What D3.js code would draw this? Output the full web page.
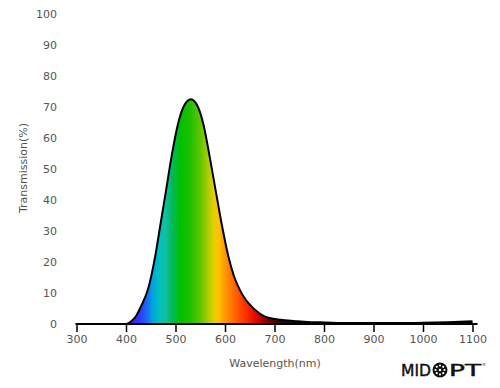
<!DOCTYPE html>
<html><head><meta charset="utf-8">
<script src="https://cdn.jsdelivr.net/npm/d3@7"></script>
<style>body{margin:0;background:#fff}svg{display:block}</style>
</head><body>
<svg id="c" width="500" height="388"></svg>
<script>
const wavelengths = [300,350,400,410,420,430,445,458,470,481,492,505,516,531,544,556,569,581,593,607,618,630,642,654,668,681,700,720,746,775,800,850,900,950,1000,1050,1100];
const transmission = [0,0,0,0.8,2.5,5.6,11.5,21,32.5,43.2,54,64.5,70,72.5,70.5,64.7,54,43.2,32.5,21.7,15.5,11,7.8,5.6,3.6,2.4,1.6,1.2,0.9,0.6,0.5,0.3,0.3,0.3,0.4,0.6,0.9];
const xTicks = [300,400,500,600,700,800,900,1000,1100];
const yTicks = [0,10,20,30,40,50,60,70,80,90,100];
const spectrumNm = [400,412,428,442,455,467,480,495,510,530,550,565,578,588,600,620,645,668,690,715,760];
const spectrumColors = ["#6010ff","#4a1aff","#2a3cff","#1a6af0","#00a8dc","#00c0c0","#10c0a0","#00b850","#00c000","#20c000","#60c400","#a8cc00","#e8d000","#ffc000","#ff9800","#ff6400","#ff2800","#d00000","#700000","#181010","#000000"];

const svg = d3.select("#c");
const x = d3.scaleLinear().domain([300,1100]).range([76.5,472.5]);
const y = d3.scaleLinear().domain([0,100]).range([324,14]);
const font = "'DejaVu Sans', Verdana, sans-serif";
const data = wavelengths.map((w,i)=>({w, t: transmission[i]}));

const grad = svg.append("defs").append("linearGradient")
  .attr("id","spec").attr("gradientUnits","userSpaceOnUse")
  .attr("x1", x(400)).attr("x2", x(760)).attr("y1",0).attr("y2",0);
spectrumNm.forEach((n,i)=>{
  grad.append("stop").attr("offset", (n-400)/(760-400)).attr("stop-color", spectrumColors[i]);
});

const area = d3.area().x(d=>x(d.w)).y0(y(0)).y1(d=>y(d.t)).curve(d3.curveMonotoneX);
const line = d3.line().x(d=>x(d.w)).y(d=>y(d.t)).curve(d3.curveMonotoneX);

svg.append("path").datum(data).attr("d", area).attr("fill","url(#spec)");

// x axis
const xa = svg.append("g").attr("transform",`translate(0,${y(0)})`)
  .call(d3.axisBottom(x).tickValues(xTicks).tickFormat(d3.format("d")).tickSize(8).tickSizeOuter(0).tickPadding(3));
xa.select(".domain").remove();
xa.append("line").attr("x1", x(300)-1).attr("x2", x(1100)+5).attr("stroke","#000").attr("stroke-width",2);
xa.selectAll(".tick line").attr("stroke","#000").attr("stroke-width",1.5);
xa.selectAll(".tick text").attr("fill","#555").attr("font-size",11).attr("font-family",font);

svg.append("path").datum(data).attr("d", line).attr("fill","none").attr("stroke","#000").attr("stroke-width",2);

// y axis labels
const ya = svg.append("g").attr("transform","translate(57,0)")
  .call(d3.axisLeft(y).tickValues(yTicks).tickSize(0).tickPadding(0));
ya.select(".domain").remove();
ya.selectAll(".tick text").attr("fill","#555").attr("font-size",11).attr("font-family",font);

svg.append("text").attr("x",275).attr("y",367).attr("text-anchor","middle")
  .attr("fill","#555").attr("font-size",11).attr("font-family",font).text("Wavelength(nm)");
svg.append("text").attr("transform","translate(27,168) rotate(-90)").attr("text-anchor","middle")
  .attr("fill","#555").attr("font-size",11).attr("font-family",font).text("Transmission(%)");

// logo
const logo = svg.append("g").attr("font-family","'DejaVu Sans', sans-serif").attr("font-size",15).attr("fill","#111");
logo.append("text").attr("x",401).attr("y",376).attr("textLength",30).attr("lengthAdjust","spacingAndGlyphs").attr("stroke","#111").attr("stroke-width",0.4).text("MID");
logo.append("circle").attr("cx",440).attr("cy",370).attr("r",7.5).attr("fill","#111");
d3.range(8).forEach(i=>{
  const a = i*Math.PI/4;
  logo.append("circle").attr("cx",440+4.5*Math.cos(a)).attr("cy",370+4.5*Math.sin(a)).attr("r",1.1).attr("fill","#fff");
});
logo.append("circle").attr("cx",440).attr("cy",370).attr("r",1.3).attr("fill","#fff");
logo.append("text").attr("x",449).attr("y",376).attr("textLength",32).attr("lengthAdjust","spacingAndGlyphs").attr("stroke","#111").attr("stroke-width",0.4).text("PT");
logo.append("text").attr("x",482).attr("y",366).attr("font-size",4).text("®");
</script>
</body></html>
